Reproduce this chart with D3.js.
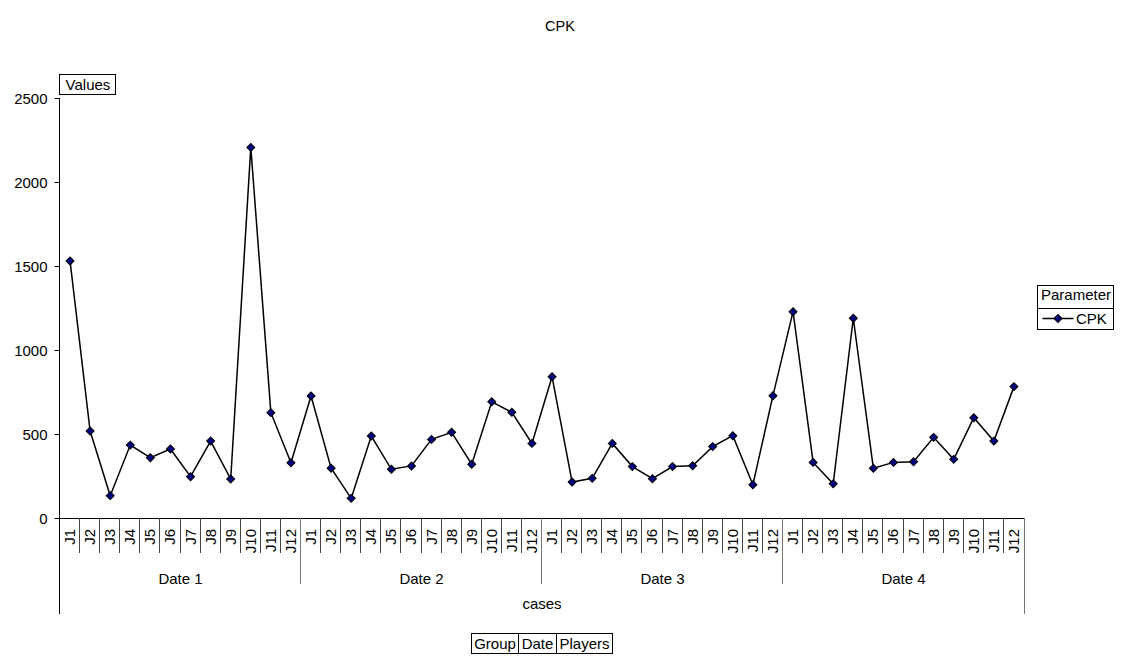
<!DOCTYPE html>
<html>
<head>
<meta charset="utf-8">
<script src="https://cdn.jsdelivr.net/npm/d3@7"></script>
<style>
  body { margin: 0; background: #fff; }
  svg { display: block; font-family: "Liberation Sans", Arial, sans-serif; }
</style>
</head>
<body>
<svg id="chart" width="1121" height="657"></svg>
<script>
// CPK per player, grouped by date
const dates = ["Date 1", "Date 2", "Date 3", "Date 4"];
const players = ["J1", "J2", "J3", "J4", "J5", "J6", "J7", "J8", "J9", "J10", "J11", "J12"];
const cpkDate1 = [1530, 518, 133, 434, 359, 411, 246, 458, 232, 2206, 627, 329];
const cpkDate2 = [726, 296, 117, 488, 290, 310, 468, 510, 320, 692, 629, 444];
const cpkDate3 = [841, 214, 236, 444, 306, 234, 306, 311, 425, 490, 198, 728];
const cpkDate4 = [1228, 331, 204, 1189, 296, 331, 335, 480, 349, 597, 458, 782];
const yTicks = [0, 500, 1000, 1500, 2000, 2500];
const filterButtons = ["Group", "Date", "Players"];

const series = [cpkDate1, cpkDate2, cpkDate3, cpkDate4];
const rows = [];
dates.forEach((d, i) => players.forEach((p, j) => rows.push({ date: d, player: p, key: d + "|" + p, value: series[i][j] })));

const svg = d3.select("#chart");
const plotLeft = 60, plotRight = 1024, plotTop = 98, plotBottom = 518;
const FS = 15;

const x = d3.scaleBand().domain(rows.map(r => r.key)).range([plotLeft, plotRight]).padding(0);
const y = d3.scaleLinear().domain([0, 2500]).range([plotBottom, plotTop]);
const cx = r => x(r.key) + x.bandwidth() / 2;

// title
svg.append("text").attr("x", 560).attr("y", 31).attr("text-anchor", "middle")
  .attr("font-size", 14.5).text("CPK");

// y axis
const yAxis = svg.append("g").attr("transform", `translate(${plotLeft - 0.5},0)`)
  .call(d3.axisLeft(y).tickValues(yTicks).tickSize(5).tickPadding(7).tickFormat(d3.format("d")));
yAxis.select(".domain").attr("stroke", "#000").attr("d", `M0,${plotTop}V${plotBottom + 96}`);
yAxis.selectAll(".tick line").attr("stroke", "#000");
yAxis.selectAll(".tick text").attr("font-size", FS).attr("font-family", "Liberation Sans, Arial, sans-serif")
  .attr("fill", "#000").attr("dy", "0.35em");

// "Values" field button
svg.append("rect").attr("x", 59.5).attr("y", 74.5).attr("width", 56).attr("height", 20)
  .attr("fill", "#fff").attr("stroke", "#000");
svg.append("text").attr("x", 88).attr("y", 90).attr("text-anchor", "middle").attr("font-size", FS).text("Values");

// x baseline
svg.append("line").attr("x1", plotLeft).attr("x2", plotRight).attr("y1", plotBottom + 0.5).attr("y2", plotBottom + 0.5)
  .attr("stroke", "#000");

// category separators and labels
const catG = svg.append("g");
rows.forEach((r, i) => {
  const x0 = x(r.key);
  const isDateEdge = i % players.length === 0;
  if (i > 0) {
    catG.append("line").attr("x1", Math.round(x0) - 0.5).attr("x2", Math.round(x0) - 0.5)
      .attr("y1", plotBottom).attr("y2", isDateEdge ? 584 : 553)
      .attr("stroke", isDateEdge ? "#777" : "#444");
  }
  catG.append("text").attr("transform", `translate(${cx(r) + 5},529) rotate(-90)`)
    .attr("text-anchor", "end").attr("font-size", FS).text(r.player);
});
// right edge
svg.append("line").attr("x1", plotRight + 0.5).attr("x2", plotRight + 0.5).attr("y1", plotBottom).attr("y2", plotBottom + 96)
  .attr("stroke", "#777");

// date labels
dates.forEach(d => {
  const first = x(d + "|" + players[0]);
  const last = x(d + "|" + players[players.length - 1]) + x.bandwidth();
  svg.append("text").attr("x", (first + last) / 2).attr("y", 584).attr("text-anchor", "middle")
    .attr("font-size", FS).text(d);
});
svg.append("text").attr("x", (plotLeft + plotRight) / 2).attr("y", 609).attr("text-anchor", "middle")
  .attr("font-size", FS).text("cases");

// line and markers
const line = d3.line().x(cx).y(r => y(r.value));
svg.append("path").datum(rows).attr("d", line).attr("fill", "none").attr("stroke", "#000").attr("stroke-width", 1.5);
const marker = d3.symbol().type(d3.symbolSquare).size(32);
svg.append("g").selectAll("path").data(rows).join("path")
  .attr("d", marker)
  .attr("transform", r => `translate(${cx(r)},${y(r.value)}) rotate(45)`)
  .attr("fill", "#000080").attr("stroke", "#000").attr("stroke-width", 1);

// legend
const lg = svg.append("g");
lg.append("rect").attr("x", 1037.5).attr("y", 285.5).attr("width", 76).attr("height", 44)
  .attr("fill", "#fff").attr("stroke", "#000");
lg.append("line").attr("x1", 1037.5).attr("x2", 1113.5).attr("y1", 308.5).attr("y2", 308.5).attr("stroke", "#000");
lg.append("text").attr("x", 1076).attr("y", 300).attr("text-anchor", "middle").attr("font-size", FS).text("Parameter");
lg.append("line").attr("x1", 1042.5).attr("x2", 1073.5).attr("y1", 318.5).attr("y2", 318.5).attr("stroke", "#000").attr("stroke-width", 1.5);
lg.append("path").attr("d", marker)
  .attr("transform", "translate(1058,318.5) rotate(45)").attr("fill", "#000080").attr("stroke", "#000");
lg.append("text").attr("x", 1076).attr("y", 324).attr("font-size", FS).text("CPK");

// filter buttons
const widths = [47, 38, 56];
let bx = 471.5;
filterButtons.forEach((b, i) => {
  svg.append("rect").attr("x", bx).attr("y", 633.5).attr("width", widths[i]).attr("height", 20)
    .attr("fill", "#fff").attr("stroke", "#000");
  svg.append("text").attr("x", bx + widths[i] / 2).attr("y", 649).attr("text-anchor", "middle")
    .attr("font-size", FS).text(b);
  bx += widths[i];
});
</script>
</body>
</html>
